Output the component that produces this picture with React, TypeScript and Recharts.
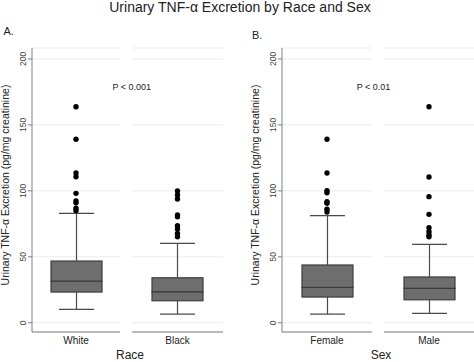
import { ComposedChart, Bar, Scatter, XAxis, YAxis, CartesianGrid } from 'recharts';

const FONT = '"Liberation Sans", Arial, Helvetica, sans-serif';

// Panel A: race
const raceGroups = ['White', 'Black'];
const raceLow = [10.2, 6.6];
const raceQ1 = [23.3, 16.7];
const raceMedian = [31.6, 23.5];
const raceQ3 = [46.8, 34.1];
const raceHigh = [83, 60.2];
const whiteOutliers = [163.8, 139.1, 113.5, 110.7, 98.1, 92.3, 91, 86.8, 85];
const blackOutliers = [99.9, 96.9, 93.8, 81.7, 80.4, 73.6, 71.1, 67.8, 65.2];

// Panel B: sex
const sexGroups = ['Female', 'Male'];
const sexLow = [6.6, 7.1];
const sexQ1 = [19.5, 17.4];
const sexMedian = [26.8, 26.1];
const sexQ3 = [43.8, 34.7];
const sexHigh = [81.2, 59.5];
const femaleOutliers = [139.1, 113.5, 100.1, 98.6, 91.8, 90.6, 86, 84];
const maleOutliers = [163.8, 110.5, 95.6, 82.2, 72, 69, 66.5, 65.2];

const yTicks = [0, 50, 100, 150, 200];
const yDomain = [-7, 208.3];

const BOX_FILL = '#6e6e6e';
const BOX_EDGE = '#3c3c3c';
const WHISKER = '#4a4a4a';
const AXIS = '#808080';
const CAP = 35;

const makeRow = (name: string, low: number, q1: number, med: number, q3: number, high: number) => ({
  name,
  base: low,
  lowW: q1 - low,
  lowBox: med - q1,
  highBox: q3 - med,
  highW: high - q3,
});

const LowerWhisker = (p: any) => {
  const cx = p.x + p.width / 2;
  const bottom = p.y + p.height;
  return (
    <g stroke={WHISKER} strokeWidth={1.2}>
      <line x1={cx} x2={cx} y1={p.y} y2={bottom} />
      <line x1={cx - CAP / 2} x2={cx + CAP / 2} y1={bottom} y2={bottom} />
    </g>
  );
};

const UpperWhisker = (p: any) => {
  const cx = p.x + p.width / 2;
  return (
    <g stroke={WHISKER} strokeWidth={1.2}>
      <line x1={cx} x2={cx} y1={p.y} y2={p.y + p.height} />
      <line x1={cx - CAP / 2} x2={cx + CAP / 2} y1={p.y} y2={p.y} />
    </g>
  );
};

const BoxPart = (p: any) => (
  <rect x={p.x} y={p.y} width={p.width} height={p.height} fill={BOX_FILL} stroke={BOX_EDGE} strokeWidth={1.2} />
);

const Dot = (p: any) => <circle cx={p.cx} cy={p.cy} r={2.7} fill="#000" />;

const YTick = (p: any) => (
  <text
    x={p.x}
    y={p.y}
    transform={`rotate(-90 ${p.x} ${p.y})`}
    textAnchor="middle"
    fontSize={8.5}
    fill="#444"
    fontFamily={FONT}
  >
    {p.payload.value}
  </text>
);

interface GroupProps {
  row: any;
  outliers: number[];
  left: number;
  width: number;
  showAxis: boolean;
}

const GroupPlot = ({ row, outliers, left, width, showAxis }: GroupProps) => {
  const points = outliers.map((v) => ({ name: row.name, value: v }));
  return (
    <div style={{ position: 'absolute', left, top: 0 }}>
      <ComposedChart width={width} height={362} data={[row]} margin={{ top: 48, right: 0, bottom: 0, left: 0 }} barSize={51}>
        <CartesianGrid horizontal vertical={false} stroke="#ebebeb" />
        <XAxis
          dataKey="name"
          allowDuplicatedCategory={false}
          height={30}
          tickSize={0}
          tickMargin={5}
          axisLine={{ stroke: AXIS }}
          tick={{ fontSize: 10, fill: '#222', fontFamily: FONT }}
        />
        <YAxis
          type="number"
          domain={yDomain}
          ticks={yTicks}
          hide={!showAxis}
          width={32}
          tickSize={4}
          tickMargin={2}
          axisLine={{ stroke: AXIS }}
          tickLine={{ stroke: AXIS }}
          tick={<YTick />}
        />
        <Bar dataKey="base" stackId="b" fill="transparent" isAnimationActive={false} />
        <Bar dataKey="lowW" stackId="b" shape={LowerWhisker} isAnimationActive={false} />
        <Bar dataKey="lowBox" stackId="b" shape={BoxPart} isAnimationActive={false} />
        <Bar dataKey="highBox" stackId="b" shape={BoxPart} isAnimationActive={false} />
        <Bar dataKey="highW" stackId="b" shape={UpperWhisker} isAnimationActive={false} />
        <Scatter data={points} dataKey="value" shape={Dot} isAnimationActive={false} />
      </ComposedChart>
    </div>
  );
};

const rowAt = (i: number, groups: string[], low: number[], q1: number[], med: number[], q3: number[], high: number[]) =>
  makeRow(groups[i], low[i], q1[i], med[i], q3[i], high[i]);

export default function App() {
  const white = rowAt(0, raceGroups, raceLow, raceQ1, raceMedian, raceQ3, raceHigh);
  const black = rowAt(1, raceGroups, raceLow, raceQ1, raceMedian, raceQ3, raceHigh);
  const female = rowAt(0, sexGroups, sexLow, sexQ1, sexMedian, sexQ3, sexHigh);
  const male = rowAt(1, sexGroups, sexLow, sexQ1, sexMedian, sexQ3, sexHigh);
  const yTitle = 'Urinary TNF-\u03b1 Excretion (pg/mg creatinine)';

  return (
    <div style={{ position: 'absolute', left: 0, top: 0, width: 474, height: 362, background: '#fff', overflow: 'hidden' }}>
      <GroupPlot row={white} outliers={whiteOutliers} left={0} width={120} showAxis />
      <GroupPlot row={black} outliers={blackOutliers} left={132} width={91} showAxis={false} />
      <GroupPlot row={female} outliers={femaleOutliers} left={250} width={122} showAxis />
      <GroupPlot row={male} outliers={maleOutliers} left={384} width={90} showAxis={false} />
      <svg width={474} height={362} style={{ position: 'absolute', left: 0, top: 0, pointerEvents: 'none' }} fontFamily={FONT}>
        <text x={240} y={12} textAnchor="middle" fontSize={14} fill="#222">
          Urinary TNF-α Excretion by Race and Sex
        </text>
        <text x={3.5} y={35} fontSize={11} fill="#222">A.</text>
        <text x={252} y={39.3} fontSize={11} fill="#222">B.</text>
        <text x={131.7} y={90} textAnchor="middle" fontSize={9} fill="#222">P &lt; 0.001</text>
        <text x={373.5} y={90} textAnchor="middle" fontSize={9} fill="#222">P &lt; 0.01</text>
        <text x={9} y={185} transform="rotate(-90 9 185)" textAnchor="middle" fontSize={10.5} fill="#222">{yTitle}</text>
        <text x={259} y={185} transform="rotate(-90 259 185)" textAnchor="middle" fontSize={10.5} fill="#222">{yTitle}</text>
        <text x={130} y={358.5} textAnchor="middle" fontSize={12} fill="#222">Race</text>
        <text x={381} y={358.5} textAnchor="middle" fontSize={12} fill="#222">Sex</text>
      </svg>
    </div>
  );
}
